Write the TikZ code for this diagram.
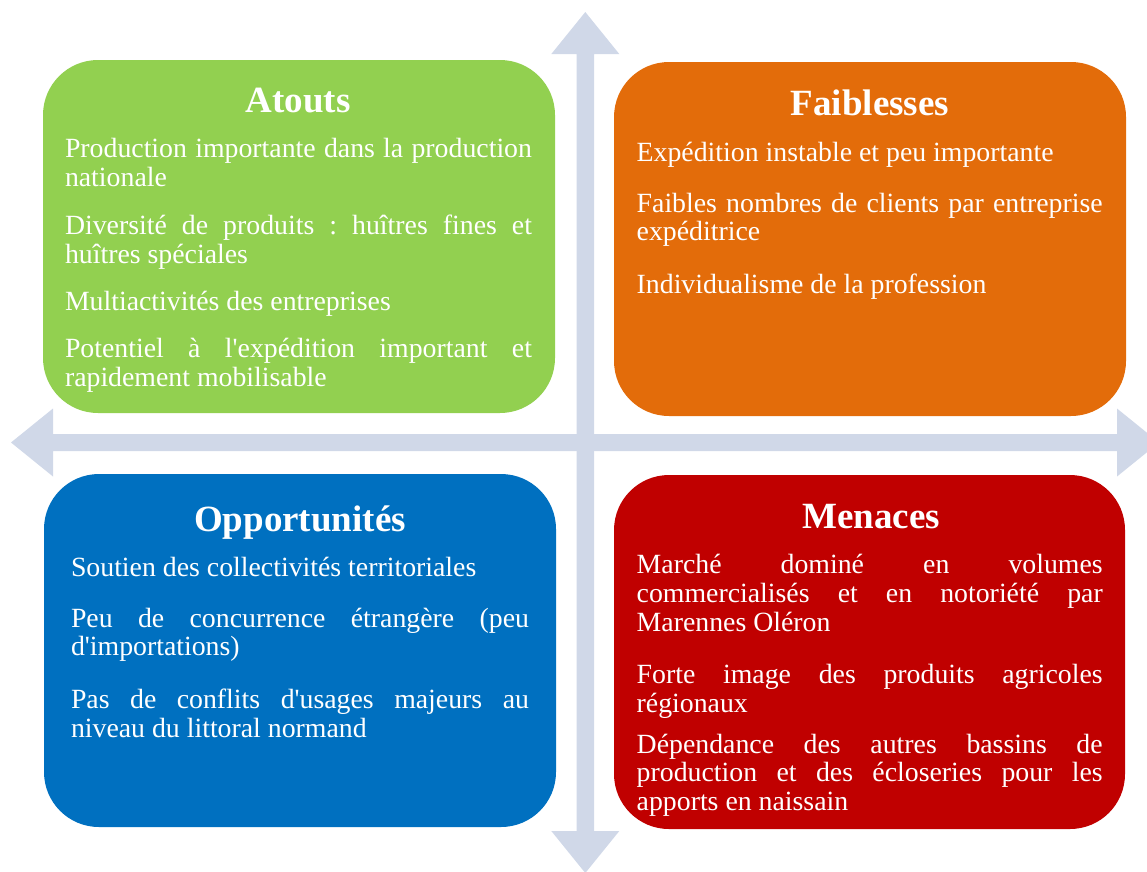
\documentclass[tikz,border=0pt]{standalone}
\usepackage{fontspec}
\newfontfamily\bodyfont{Liberation Serif}
\definecolor{swotgreen}{RGB}{146,208,80}
\definecolor{swotorange}{RGB}{227,108,10}
\definecolor{swotblue}{RGB}{0,112,192}
\definecolor{swotred}{RGB}{192,0,0}
\definecolor{axiscol}{RGB}{208,216,232}
% a fully justified line, followed by a break
\newcommand{\jl}[1]{\makebox[\linewidth][s]{\frenchspacing\spaceskip=0pt\xspaceskip=0pt #1}\\}
\begin{document}
\begin{tikzpicture}[x=1pt,y=-1pt,
  quad/.style={rounded corners=55pt,inner sep=0pt,outer sep=0pt},
  heading/.style={anchor=base,inner sep=0pt,text=white,
    font=\bodyfont\bfseries\fontsize{37}{40}\selectfont},
  para/.style={anchor=base west,text width=#1,inner sep=0pt,outer sep=0pt,
    align=justify,text=white,font=\bodyfont\fontsize{27.8}{28.6}\selectfont,
    execute at begin node={\frenchspacing\spaceskip=0pt\xspaceskip=0pt}}]
\useasboundingbox (0,0) rectangle (1147,871);
\clip (0,0) rectangle (1147,871);

% the two axes with their arrow heads
\fill[axiscol] (585.3,12) -- (619.3,54) -- (594,54) -- (594,831) -- (619.3,831)
  -- (585.3,873) -- (551.3,831) -- (576.7,831) -- (576.7,54) -- (551.3,54) -- cycle;
\fill[axiscol] (11,442.5) -- (53,408.5) -- (53,434) -- (1117,434) -- (1117,408.5)
  -- (1159,442.5) -- (1117,476.5) -- (1117,451) -- (53,451) -- (53,476.5) -- cycle;

% the four quadrants
\node[quad,fill=swotgreen,minimum width=512pt,minimum height=353pt] (atouts) at (299,236.5) {};
\node[quad,fill=swotorange,minimum width=512pt,minimum height=354pt] (faiblesses) at (870,239) {};
\node[quad,fill=swotblue,minimum width=512pt,minimum height=353pt] (opport) at (300,650.5) {};
\node[quad,fill=swotred,minimum width=511pt,minimum height=354pt] (menaces) at (869.5,652) {};

% Atouts
\node[heading] (t1) at (298,112) {Atouts};
\node[para=467pt] (a1) at (65,157.5) {\jl{Production importante dans la production}nationale};
\node[para=467pt] (a2) at (65,234.5) {\jl{Diversité de produits : huîtres fines et}huîtres spéciales};
\node[para=467pt] (a3) at (65,310.5) {Multiactivités des entreprises};
\node[para=467pt] (a4) at (65,357.8) {\jl{Potentiel à l'expédition important et}rapidement mobilisable};

% Faiblesses
\node[heading] (t2) at (870,115) {Faiblesses};
\node[para=466pt] (f1) at (636.7,161.5) {Expédition instable et peu importante};
\node[para=466pt] (f2) at (636.7,212.2) {\jl{Faibles nombres de clients par entreprise}expéditrice};
\node[para=466pt] (f3) at (636.7,293.8) {Individualisme de la profession};

% Opportunités
\node[heading] (t3) at (300,531) {Opportunités};
\node[para=458pt] (o1) at (71,576.5) {Soutien des collectivités territoriales};
\node[para=458pt] (o2) at (71,627.2) {\jl{Peu de concurrence étrangère (peu}d'importations)};
\node[para=458pt] (o3) at (71,708.8) {\jl{Pas de conflits d'usages majeurs au}niveau du littoral normand};

% Menaces
\node[heading] (t4) at (871,528) {Menaces};
\node[para=466pt] (m1) at (636.7,573.8) {\jl{Marché dominé en volumes}\jl{commercialisés et en notoriété par}Marennes Oléron};
\node[para=466pt] (m2) at (636.7,683.8) {\jl{Forte image des produits agricoles}régionaux};
\node[para=466pt] (m3) at (636.7,753.2) {\jl{Dépendance des autres bassins de}\jl{production et des écloseries pour les}apports en naissain};
\end{tikzpicture}
\end{document}
